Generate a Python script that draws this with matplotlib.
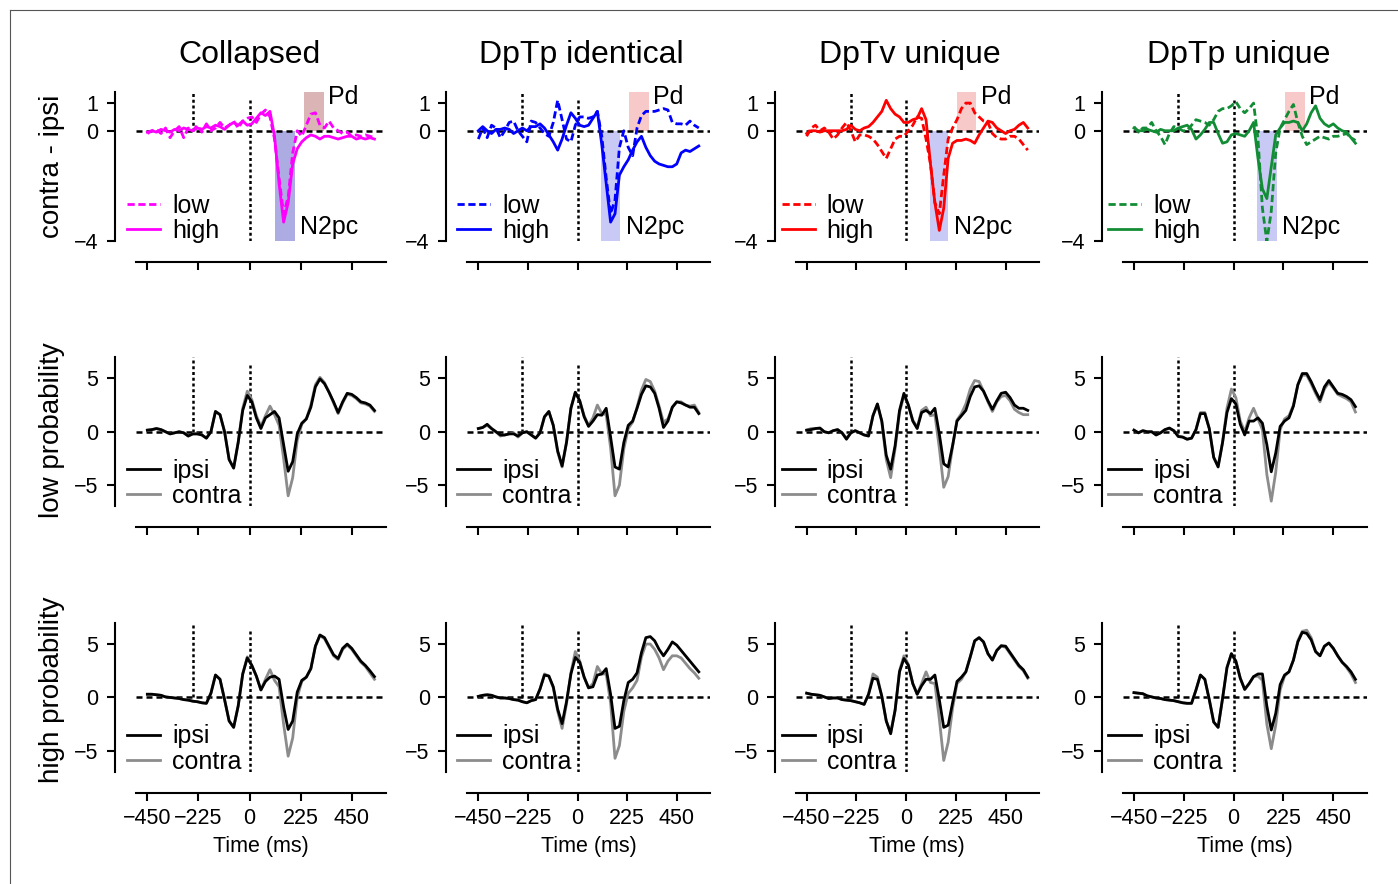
import matplotlib
matplotlib.use("Agg")
import matplotlib.pyplot as plt
from matplotlib.lines import Line2D

plt.rcParams['font.family'] = ['Liberation Sans', 'DejaVu Sans']

# ---------------- data ----------------
time_ms = list(range(-450, 551, 20))

conditions = ["Collapsed", "DpTp identical", "DpTv unique", "DpTp unique"]
cond_colors = ["#ff00ff", "#0000ff", "#ff0000", "#138d35"]
row_labels = ["contra - ipsi", "low probability", "high probability"]
xtick_vals = [-450, -225, 0, 225, 450]

# N2pc / Pd windows (ms)
n2pc_windows = [(110, 198), (106, 194), (106, 190), (106, 194)]
pd_windows = [(238, 326), (234, 322), (229, 318), (234, 322)]

# Row 1: contra - ipsi difference waves
collapsed_diff_low = [-0.1, 0.0, 0.05, -0.1, 0.1, -0.25, 0.0, 0.15, -0.25, 0.1,
    0.0, 0.2, -0.05, 0.25, 0.0, 0.1, 0.3, 0.1, 0.2, 0.35,
    0.1, 0.35, 0.45, 0.5, 0.3, 0.6, 0.75, 0.5, -0.3, -1.7,
    -3.0, -2.4, -0.8, 0.0, -0.2, 0.2, 0.6, 0.65, 0.2, 0.1,
    0.35, 0.1, 0.0, -0.1, -0.05, -0.2, -0.15, -0.2, -0.15, -0.2, -0.25]
collapsed_diff_high = [-0.05, 0.0, -0.05, 0.05, 0.0, -0.05, 0.05, 0.0, 0.1, 0.05,
    0.0, 0.1, 0.05, 0.15, 0.1, 0.2, 0.15, 0.05, 0.2, 0.3,
    0.2, 0.35, 0.2, 0.25, 0.45, 0.65, 0.55, 0.7, -0.2, -1.9,
    -3.3, -2.6, -1.2, -0.65, -0.4, -0.25, -0.15, -0.2, -0.3, -0.2,
    -0.2, -0.25, -0.3, -0.25, -0.2, -0.2, -0.3, -0.25, -0.3, -0.25, -0.3]
dptp_id_diff_low = [-0.3, 0.1, -0.25, 0.2, 0.1, -0.25, 0.0, 0.3, 0.35, 0.0,
    -0.2, -0.4, 0.35, 0.3, 0.1, -0.1, -0.2, 0.3, 1.1, 0.4,
    -0.3, -0.4, 0.2, 0.5, 0.5, 0.45, 0.5, 0.7, -0.2, -1.7,
    -3.0, -2.5, -0.6, 0.0, -0.6, -0.9, 0.1, 0.55, 0.7, 0.7,
    0.7, 0.75, 0.8, 0.75, 0.3, 0.25, 0.25, 0.2, 0.35, 0.2, 0.1]
dptp_id_diff_high = [0.0, 0.15, 0.0, -0.1, 0.05, 0.05, 0.1, 0.05, -0.1, 0.0,
    0.1, 0.0, 0.15, 0.15, 0.25, 0.1, -0.15, -0.4, -0.7, -0.3,
    0.2, 0.65, 0.45, 0.2, 0.15, 0.2, 0.45, 0.7, -0.5, -1.9,
    -3.3, -3.0, -1.6, -1.3, -1.05, -0.7, -0.4, -0.2, -0.6, -0.9,
    -1.1, -1.2, -1.25, -1.3, -1.3, -1.2, -0.8, -0.7, -0.75, -0.65, -0.55]
dptv_diff_low = [-0.2, 0.1, 0.2, 0.0, 0.1, -0.05, -0.3, -0.15, 0.1, 0.3,
    0.0, -0.4, -0.15, -0.15, -0.2, -0.3, -0.5, -0.75, -1.0, -0.65,
    -0.3, -0.2, -0.2, 0.0, 0.2, 0.5, 0.45, -0.3, -1.2, -2.6,
    -3.0, -1.6, -0.3, 0.1, 0.4, 0.8, 1.0, 1.0, 0.65, 0.5,
    0.35, 0.3, -0.1, -0.25, -0.3, -0.3, -0.2, -0.2, -0.3, -0.5, -0.7]
dptv_diff_high = [-0.1, 0.0, 0.0, -0.05, 0.0, 0.0, 0.0, 0.0, 0.0, 0.05,
    0.2, 0.05, 0.0, 0.1, 0.15, 0.3, 0.5, 0.7, 1.1, 0.8,
    0.6, 0.5, 0.3, 0.3, 0.4, 0.45, 0.8, 0.4, -1.2, -2.6,
    -3.6, -2.8, -1.0, -0.45, -0.35, -0.35, -0.3, -0.35, -0.45, -0.15,
    0.1, 0.35, 0.3, 0.1, 0.0, -0.1, 0.0, 0.05, 0.2, 0.3, 0.1]
dptp_un_diff_low = [0.15, -0.05, 0.1, 0.1, 0.3, 0.0, -0.2, -0.5, -0.1, 0.15,
    0.1, 0.0, 0.0, 0.2, 0.4, 0.35, 0.3, 0.2, 0.4, 0.7,
    0.8, 0.8, 0.9, 1.05, 0.8, 0.65, 0.8, 1.0, -0.3, -2.8,
    -4.0, -2.9, -0.8, 0.1, 0.4, 0.7, 0.95, 0.3, -0.2, -0.5,
    -0.4, -0.3, -0.2, -0.25, -0.3, -0.2, -0.2, -0.15, -0.1, -0.25, -0.35]
dptp_un_diff_high = [0.1, 0.0, 0.0, 0.05, 0.0, -0.05, 0.05, 0.0, 0.0, 0.0,
    0.1, 0.15, 0.2, 0.05, -0.3, -0.15, 0.05, 0.3, 0.3, -0.1,
    -0.45, -0.4, -0.15, -0.1, -0.15, -0.2, 0.0, 0.3, -1.0, -2.1,
    -2.45, -1.3, -0.15, 0.1, 0.3, 0.3, 0.35, 0.3, 0.0, 0.25,
    0.65, 0.9, 0.45, 0.25, 0.15, 0.25, 0.1, 0.0, -0.05, -0.25, -0.45]

# Row 2: low probability ipsi / contra
collapsed_low_ipsi = [0.15, 0.2, 0.3, 0.2, 0.0, -0.2, -0.1, 0.0, -0.1, -0.4,
    -0.2, -0.2, -0.3, -0.6, 0.0, 1.9, 1.6, 0.0, -2.6, -3.4,
    -1.0, 2.0, 3.4, 2.8, 1.3, 0.3, 1.3, 1.6, 1.9, 1.3,
    -1.2, -3.7, -2.8, -0.2, 0.8, 1.2, 2.3, 4.2, 4.95, 4.5,
    3.7, 2.8, 1.8, 2.8, 3.6, 3.5, 3.2, 2.8, 2.7, 2.5, 2.0]
collapsed_low_contra = [0.15, 0.2, 0.3, 0.2, 0.0, -0.2, -0.1, 0.0, -0.1, -0.4,
    -0.2, -0.2, -0.3, -0.6, 0.0, 1.9, 1.6, 0.0, -2.6, -3.4,
    -1.0, 2.2, 3.8, 3.0, 1.5, 0.5, 1.5, 2.4, 1.6, 0.6,
    -2.5, -6.0, -4.3, -0.8, 0.7, 1.2, 2.5, 4.4, 5.1, 4.6,
    3.7, 2.7, 1.7, 2.7, 3.5, 3.4, 3.1, 2.7, 2.6, 2.4, 1.9]
dptp_id_low_ipsi = [0.3, 0.4, 0.7, 0.3, 0.0, -0.3, -0.3, -0.2, -0.2, -0.4,
    -0.1, 0.0, -0.3, -0.6, -0.1, 1.4, 1.9, 0.6, -1.8, -3.2,
    -1.0, 2.2, 3.7, 2.9, 1.4, 0.5, 1.0, 1.6, 1.55, 2.2,
    -0.5, -3.3, -3.5, -1.0, 0.6, 1.0, 2.2, 3.5, 4.3, 4.2,
    3.6, 2.2, 0.4, 1.0, 2.3, 2.8, 2.7, 2.5, 2.3, 2.3, 1.7]
dptp_id_low_contra = [0.3, 0.4, 0.6, 0.3, 0.0, -0.4, -0.3, -0.2, -0.1, -0.5,
    -0.1, 0.0, -0.3, -0.6, -0.1, 1.4, 1.9, 0.6, -1.9, -3.3,
    -1.0, 2.2, 3.7, 2.9, 1.5, 0.6, 1.3, 2.5, 1.7, 1.6,
    -1.5, -6.0, -5.0, -1.6, 0.3, 0.9, 2.3, 3.9, 4.9, 4.7,
    3.8, 2.4, 0.9, 1.2, 2.3, 2.8, 2.8, 2.5, 2.4, 2.5, 1.8]
dptv_low_ipsi = [0.15, 0.2, 0.3, 0.35, 0.0, -0.1, 0.1, 0.2, -0.1, -0.7,
    -0.1, 0.1, -0.1, -0.3, -0.4, 1.5, 2.6, 1.0, -2.2, -3.5,
    -1.3, 2.0, 3.6, 2.5, 1.0, 0.3, 1.8, 2.0, 1.7, 2.2,
    -0.2, -3.0, -3.3, -1.3, 1.0, 1.5, 2.0, 3.3, 4.2, 4.3,
    3.8, 2.9, 2.1, 2.9, 3.6, 3.7, 3.2, 2.5, 2.2, 2.2, 2.0]
dptv_low_contra = [0.15, 0.3, 0.3, 0.3, 0.0, -0.1, 0.1, 0.2, -0.1, -0.6,
    -0.1, 0.1, -0.1, -0.3, -0.4, 1.5, 2.6, 0.9, -2.6, -4.3,
    -1.6, 1.8, 3.4, 2.5, 1.1, 0.4, 2.0, 2.3, 1.5, 1.6,
    -1.5, -5.2, -4.2, -1.4, 1.1, 1.7, 2.6, 4.0, 4.8, 4.7,
    3.8, 2.8, 1.9, 2.8, 3.3, 3.4, 2.9, 2.1, 1.8, 1.6, 1.6]
dptp_un_low_ipsi = [0.15, -0.1, 0.1, 0.0, 0.0, -0.3, -0.1, 0.2, 0.35, 0.1,
    -0.45, -0.5, -0.7, -0.6, 0.2, 1.7, 1.7, 0.3, -2.4, -3.3,
    -1.0, 1.8, 3.1, 2.6, 0.7, -0.3, 1.0, 1.0, 1.3, 0.8,
    -1.2, -3.75, -2.0, 0.5, 1.0, 1.3, 2.4, 4.4, 5.45, 5.45,
    4.7, 3.8, 3.0, 4.2, 4.8, 4.2, 3.6, 3.5, 3.3, 3.0, 2.35]
dptp_un_low_contra = [0.15, -0.1, 0.1, 0.0, 0.0, -0.3, -0.1, 0.2, 0.3, 0.1,
    -0.4, -0.5, -0.7, -0.6, 0.2, 1.8, 1.8, 0.3, -2.4, -3.2,
    -1.0, 2.2, 4.0, 3.2, 1.0, 0.0, 1.3, 2.2, 1.2, 0.2,
    -4.0, -6.5, -3.8, 0.2, 1.2, 1.5, 2.5, 4.4, 5.3, 5.3,
    4.5, 3.6, 2.8, 4.0, 4.6, 4.1, 3.5, 3.3, 3.1, 2.8, 1.85]

# Row 3: high probability ipsi / contra
collapsed_high_ipsi = [0.3, 0.3, 0.25, 0.2, 0.05, 0.0, -0.05, -0.1, -0.2, -0.25,
    -0.35, -0.4, -0.5, -0.55, 0.4, 2.1, 1.7, -0.2, -2.2, -2.8,
    -0.8, 2.2, 3.7, 3.0, 2.0, 0.7, 1.5, 1.9, 2.0, 1.7,
    -0.9, -3.0, -2.2, 0.5, 1.6, 1.9, 2.7, 4.8, 5.85, 5.6,
    4.8, 4.0, 3.65, 4.6, 5.0, 4.6, 4.0, 3.4, 3.0, 2.5, 1.95]
collapsed_high_contra = [0.3, 0.3, 0.25, 0.2, 0.05, 0.0, -0.05, -0.1, -0.2, -0.25,
    -0.35, -0.4, -0.5, -0.55, 0.4, 2.1, 1.7, -0.2, -2.2, -2.8,
    -0.8, 2.2, 3.8, 3.0, 2.0, 0.7, 1.7, 2.6, 1.6, 1.0,
    -2.5, -5.5, -3.8, 0.0, 1.5, 1.9, 2.7, 4.8, 5.8, 5.5,
    4.7, 3.9, 3.55, 4.5, 4.9, 4.5, 3.9, 3.3, 2.9, 2.3, 1.7]
dptp_id_high_ipsi = [0.1, 0.2, 0.25, 0.2, 0.05, -0.05, -0.05, -0.1, -0.2, -0.25,
    -0.4, -0.5, -0.3, -0.2, 0.8, 2.1, 2.0, 1.0, -1.1, -2.45,
    -0.4, 2.2, 3.75, 3.3, 1.9, 0.9, 1.0, 2.1, 2.2, 2.7,
    0.3, -2.9, -2.7, -0.3, 1.4, 1.7, 2.3, 4.2, 5.6, 5.7,
    5.3, 4.5, 3.9, 4.5, 5.2, 4.9, 4.4, 3.9, 3.4, 2.9, 2.4]
dptp_id_high_contra = [0.1, 0.2, 0.25, 0.2, 0.05, -0.05, -0.05, -0.1, -0.2, -0.25,
    -0.4, -0.5, -0.3, -0.2, 0.8, 2.2, 2.0, 0.9, -1.3, -2.9,
    -0.6, 2.3, 4.3, 3.4, 1.9, 0.9, 1.3, 2.9, 2.2, 2.2,
    -0.5, -5.7, -4.5, -1.3, 0.4, 0.9, 1.6, 3.8, 5.0, 5.0,
    4.5, 3.7, 2.6, 3.4, 3.9, 3.9, 3.7, 3.2, 2.7, 2.3, 1.8]
dptv_high_ipsi = [0.4, 0.3, 0.25, 0.2, 0.05, -0.1, -0.05, -0.05, -0.2, -0.25,
    -0.3, -0.4, -0.5, -0.65, 0.3, 1.8, 1.7, 0.1, -2.2, -3.4,
    -1.2, 2.4, 3.65, 3.0, 1.3, 0.3, 1.1, 1.7, 1.7, 2.1,
    -0.2, -2.8, -2.6, -0.5, 1.5, 1.9, 2.4, 3.8, 5.3, 5.6,
    5.2, 4.1, 3.5, 4.4, 4.85, 4.8, 4.2, 3.6, 3.0, 2.6, 1.9]
dptv_high_contra = [0.4, 0.3, 0.25, 0.2, 0.05, -0.1, -0.05, -0.05, -0.2, -0.25,
    -0.3, -0.4, -0.5, -0.65, 0.3, 2.2, 1.9, 0.1, -2.2, -3.3,
    -1.2, 2.5, 3.9, 3.1, 1.3, 0.3, 1.3, 2.4, 1.4, 1.3,
    -2.0, -5.9, -4.2, -1.0, 1.3, 1.7, 2.4, 3.8, 5.3, 5.6,
    5.2, 4.1, 3.5, 4.4, 4.8, 4.7, 4.1, 3.5, 2.9, 2.5, 1.8]
dptp_un_high_ipsi = [0.45, 0.4, 0.35, 0.15, 0.05, -0.05, -0.1, -0.2, -0.25, -0.3,
    -0.4, -0.5, -0.55, -0.55, 0.7, 2.1, 1.7, -0.2, -2.3, -2.8,
    -0.1, 2.8, 4.1, 3.4, 1.8, 0.75, 1.3, 1.95, 2.2, 2.2,
    -0.8, -3.05, -1.5, 1.2, 2.1, 2.4, 3.5, 5.2, 6.1, 6.0,
    5.4, 4.3, 3.9, 4.8, 5.1, 4.6, 3.9, 3.3, 2.9, 2.4, 1.7]
dptp_un_high_contra = [0.45, 0.4, 0.35, 0.15, 0.05, -0.05, -0.1, -0.2, -0.25, -0.3,
    -0.4, -0.5, -0.55, -0.55, 0.7, 2.1, 1.7, -0.2, -2.3, -2.8,
    -0.1, 2.8, 4.1, 3.4, 1.8, 0.75, 1.3, 1.95, 2.0, 1.6,
    -2.5, -4.8, -2.6, 0.7, 2.0, 2.4, 3.5, 5.3, 6.2, 6.3,
    5.6, 4.3, 3.9, 4.8, 5.1, 4.6, 3.9, 3.3, 2.8, 2.2, 1.4]

diff_low = [collapsed_diff_low, dptp_id_diff_low, dptv_diff_low, dptp_un_diff_low]
diff_high = [collapsed_diff_high, dptp_id_diff_high, dptv_diff_high, dptp_un_diff_high]
low_ipsi = [collapsed_low_ipsi, dptp_id_low_ipsi, dptv_low_ipsi, dptp_un_low_ipsi]
low_contra = [collapsed_low_contra, dptp_id_low_contra, dptv_low_contra, dptp_un_low_contra]
high_ipsi = [collapsed_high_ipsi, dptp_id_high_ipsi, dptv_high_ipsi, dptp_un_high_ipsi]
high_contra = [collapsed_high_contra, dptp_id_high_contra, dptv_high_contra, dptp_un_high_contra]

# ---------------- layout ----------------
W, H = 1398, 884
fig = plt.figure(figsize=(W / 100, H / 100), dpi=100)

col_x0 = [136.0, 467.3, 795.6, 1122.9]
col_w = [249.8, 242.5, 243.2, 243.6]
row_top = [92.0, 357.0, 622.7]
row_h = 149.5
row_ylim = [(-4, 1.4), (-7, 7), (-7, 7)]
row_yticks = [[-4, 0, 1], [-5, 0, 5], [-5, 0, 5]]
leg_dx_px = [-9, -10, -14, -15]
title_x_px = [250, 581, 910, 1239]

n2pc_fill = ["#acace3", "#c9c9f6", "#c9c9f6", "#c9c9f6"]
pd_fill = ["#dbb5b5", "#f7c9c9", "#f7c9c9", "#f7c9c9"]

LW = 2.0
ref_kw = dict(color="black", lw=1.8, zorder=1.5)

for r in range(3):
    for c in range(4):
        rect = [col_x0[c] / W, 1 - (row_top[r] + row_h) / H, col_w[c] / W, row_h / H]
        ax = fig.add_axes(rect)
        ax.set_xlim(-500, 600)
        y0, y1 = row_ylim[r]
        ax.set_ylim(y0, y1)
        zero_frac = (0 - y0) / (y1 - y0)

        ax.axhline(0, ls=(0, (2.4, 1.6)), **ref_kw)
        ax.axvline(-250, ymin=zero_frac, ymax=1, ls=(0, (1.2, 1.1)), **ref_kw)
        ax.axvline(0, ymin=0, ymax=0.96, ls=(0, (1.2, 1.1)), **ref_kw)

        if r == 0:
            n0, n1 = n2pc_windows[c]
            p0, p1 = pd_windows[c]
            ax.fill_between([n0, n1], y0, 0, color=n2pc_fill[c], lw=0, zorder=1)
            ax.fill_between([p0, p1], 0, y1, color=pd_fill[c], lw=0, zorder=1)
            ax.plot(time_ms, diff_low[c], color=cond_colors[c], lw=LW,
                    ls=(0, (2.6, 1.3)), zorder=2)
            ax.plot(time_ms, diff_high[c], color=cond_colors[c], lw=LW, zorder=2.1)
            ax.annotate("N2pc", xy=(n1, -3.47), xytext=(4, 0), textcoords="offset points",
                        va="center", ha="left", fontsize=18, annotation_clip=False)
            ax.annotate("Pd", xy=(p1, 1.22), xytext=(3, 0), textcoords="offset points",
                        va="center", ha="left", fontsize=18, annotation_clip=False)
            handles = [Line2D([], [], color=cond_colors[c], lw=LW, ls=(0, (2.6, 1.3))),
                       Line2D([], [], color=cond_colors[c], lw=LW)]
            labels = ["low", "high"]
        else:
            ipsi = low_ipsi[c] if r == 1 else high_ipsi[c]
            contra = low_contra[c] if r == 1 else high_contra[c]
            ax.plot(time_ms, contra, color="#8c8c8c", lw=LW, zorder=2)
            ax.plot(time_ms, ipsi, color="black", lw=LW, zorder=2.1)
            handles = [Line2D([], [], color="black", lw=LW),
                       Line2D([], [], color="#8c8c8c", lw=LW)]
            labels = ["ipsi", "contra"]

        ax.legend(handles, labels, loc="lower left",
                  bbox_to_anchor=(leg_dx_px[c] / col_w[c], -0.01),
                  frameon=False, fontsize=18, borderpad=0, borderaxespad=0,
                  handlelength=1.32, handletextpad=0.48, labelspacing=0.05)

        for s in ["top", "right"]:
            ax.spines[s].set_visible(False)
        for s in ["left", "bottom"]:
            ax.spines[s].set_position(("outward", 15))
            ax.spines[s].set_linewidth(1.5)
        ax.set_yticks(row_yticks[r])
        ax.set_xticks(xtick_vals)
        ax.tick_params(axis="both", direction="out", length=6, width=1.5, labelsize=15.5)
        ax.tick_params(axis="y", pad=6)
        ax.tick_params(axis="x", pad=5)
        if r < 2:
            ax.set_xticklabels([])
        else:
            ax.set_xticklabels([str(v).replace("-", "\u2212") for v in xtick_vals])
            fig.text((col_x0[c] + col_w[c] / 2) / W, 1 - 852 / H, "Time (ms)",
                     ha="center", va="baseline", fontsize=15.5)
        ax.patch.set_visible(False)

for c in range(4):
    fig.text(title_x_px[c] / W, 1 - 63 / H, conditions[c], ha="center",
             va="baseline", fontsize=23)

row_center_px = [166, 430, 690]
for r in range(3):
    fig.text(52 / W, 1 - row_center_px[r] / H, row_labels[r], rotation=90,
             ha="center", va="center", fontsize=20)

# thin frame lines (top and left)
fig.add_artist(Line2D([10 / W, 1], [1 - 10 / H, 1 - 10 / H], transform=fig.transFigure,
                      color="#555555", lw=0.8))
fig.add_artist(Line2D([10 / W, 10 / W], [0, 1 - 10 / H], transform=fig.transFigure,
                      color="#555555", lw=0.8))

fig.savefig("out.png", dpi=100)
